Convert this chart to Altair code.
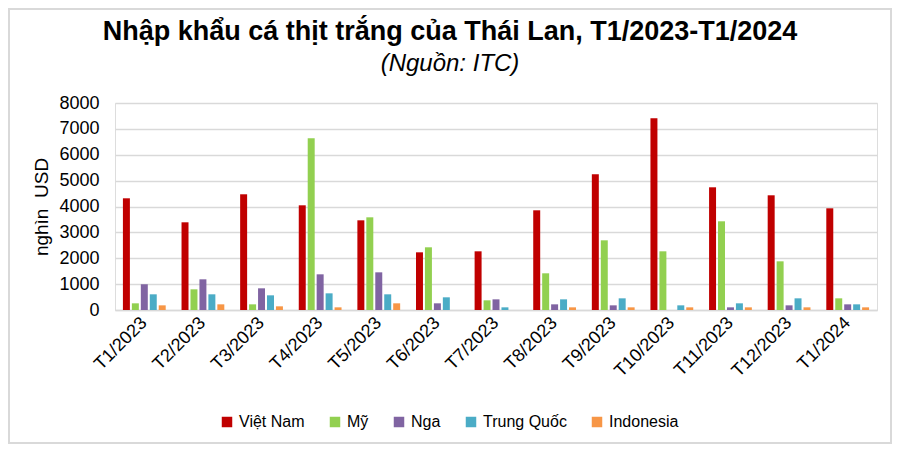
import altair as alt
import pandas as pd

months = ["T1/2023", "T2/2023", "T3/2023", "T4/2023", "T5/2023", "T6/2023", "T7/2023",
          "T8/2023", "T9/2023", "T10/2023", "T11/2023", "T12/2023", "T1/2024"]
series = ["Việt Nam", "Mỹ", "Nga", "Trung Quốc", "Indonesia"]
colors = ["#C00000", "#92D050", "#8064A2", "#4BACC6", "#F79646"]

viet_nam = [4317, 3389, 4472, 4046, 3466, 2229, 2268, 3853, 5245, 7410, 4742, 4433, 3930]
my = [258, 799, 219, 6637, 3582, 2423, 374, 1418, 2693, 2268, 3428, 1881, 451]
nga = [992, 1186, 838, 1379, 1456, 258, 412, 219, 180, 0, 103, 180, 219]
trung_quoc = [606, 606, 567, 644, 606, 490, 103, 412, 451, 180, 258, 451, 219]
indonesia = [180, 219, 142, 103, 258, 0, 0, 103, 103, 103, 103, 103, 103]

rows = []
for name, vals in zip(series, [viet_nam, my, nga, trung_quoc, indonesia]):
    for m, v in zip(months, vals):
        rows.append({"month": m, "series": name, "value": v})
df = pd.DataFrame(rows)

W, H = 762, 207
FONT = "Liberation Sans"

bars = alt.Chart(df).mark_bar().encode(
    x=alt.X("month:N", sort=months,
            scale=alt.Scale(paddingInner=0.27, paddingOuter=0.135),
            axis=alt.Axis(title=None, labelAngle=-45, labelAlign="right", labelBaseline="middle",
                          labelFontSize=18, labelColor="#000000", labelFont=FONT,
                          labelPadding=10, ticks=False, domainColor="#D9D9D9", domainWidth=1.5)),
    xOffset=alt.XOffset("series:N", sort=series, scale=alt.Scale(paddingInner=0.22, paddingOuter=0)),
    y=alt.Y("value:Q", scale=alt.Scale(domain=[0, 8000], nice=False),
            axis=alt.Axis(title="nghìn\u00a0 USD", values=list(range(0, 8001, 1000)), format="d",
                          labelFontSize=18, labelColor="#000000", labelFont=FONT, labelPadding=16,
                          titleFontSize=19, titleFont=FONT, titleFontWeight="normal",
                          titleColor="#000000", titlePadding=7,
                          ticks=False, domain=False, gridColor="#D9D9D9", gridWidth=1.5)),
    color=alt.Color("series:N", sort=series, scale=alt.Scale(domain=series, range=colors),
                    legend=alt.Legend(title=None, orient="none", legendX=104, legendY=311,
                                      direction="horizontal", symbolType="square", symbolSize=110,
                                      symbolStrokeWidth=0, labelFontSize=16, labelFont=FONT,
                                      labelColor="#000000", columnPadding=22, labelOffset=4)),
)

border = alt.Chart(pd.DataFrame({"k": [0]})).mark_rect(
    fill=None, stroke="#D9D9D9", strokeWidth=2
).encode(x=alt.value(-106), x2=alt.value(W + 14), y=alt.value(-94), y2=alt.value(H + 133))

chart = alt.layer(border, bars).properties(
    width=W, height=H,
    padding={"left": 107, "top": 95, "right": 15, "bottom": 134},
    autosize=alt.AutoSizeParams(type="none"),
    title=alt.TitleParams(text="Nhập khẩu cá thịt trắng của  Thái Lan, T1/2023-T1/2024",
                          subtitle="(Nguồn: ITC)", anchor="middle", dx=-46, offset=-69,
                          font=FONT, fontSize=27, fontWeight="bold", color="#000000",
                          subtitleFont=FONT, subtitleFontSize=24, subtitleFontStyle="italic",
                          subtitleColor="#000000", subtitlePadding=6),
).configure_view(stroke=None).configure(background="white")

chart.save("out.html", embed_options={"renderer": "svg", "actions": False})
